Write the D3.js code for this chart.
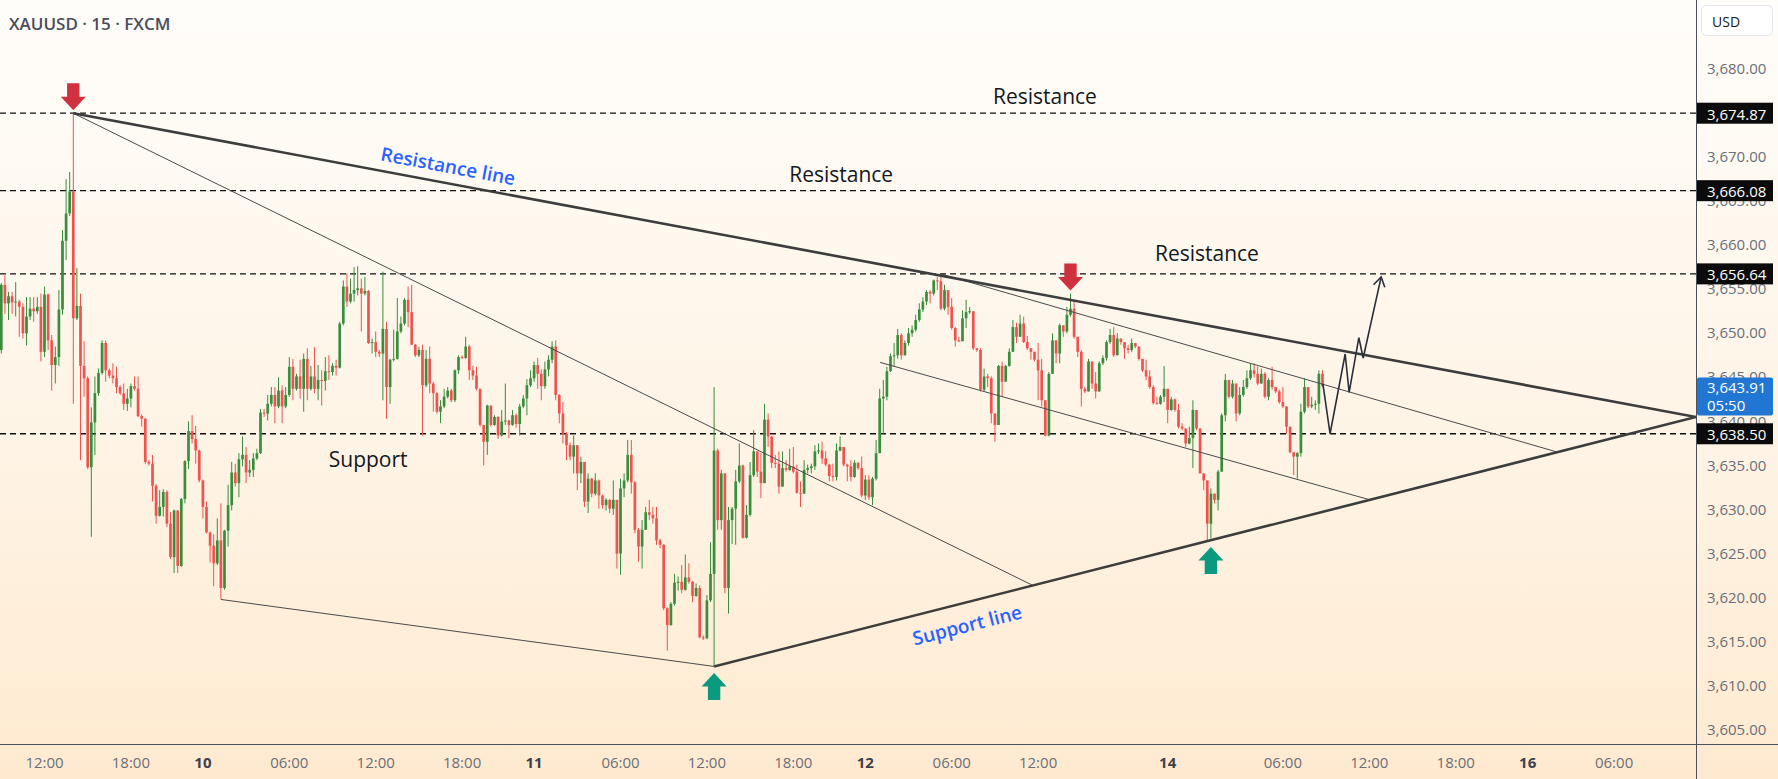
<!DOCTYPE html>
<html><head><meta charset="utf-8">
<script src="https://cdn.jsdelivr.net/npm/d3@7"></script>
<style>body{margin:0;overflow:hidden;background:#fff}svg{display:block;font-family:'Open Sans','Noto Sans',sans-serif}</style>
</head><body><svg id="c" width="1778" height="779"></svg>
<script>
// ---------- DATA (XAUUSD 15m, bar index 0 = 9 Sep 09:00 UTC) ----------
const opens=[
3648.0,3655.4,3653.3,3654.1,3653.4,3653.5,3652.9,3649.9,3651.8,3652.7,
3652.4,3652.9,3647.8,3654.3,3649.1,3646.3,3647.2,3652.6,3660.4,3663.5,
3666.0,3651.6,3653.0,3646.2,3644.8,3634.7,3639.8,3643.1,3645.4,3648.8,
3645.7,3645.1,3644.8,3643.8,3643.1,3641.9,3642.5,3643.9,3643.6,3640.5,
3640.2,3635.3,3635.1,3632.6,3629.2,3630.2,3631.9,3628.3,3624.5,3629.8,
3623.5,3631.1,3635.4,3638.8,3637.9,3636.6,3633.2,3630.2,3627.3,3625.8,
3623.8,3626.4,3621.0,3627.5,3630.4,3634.1,3632.9,3635.6,3636.1,3634.1,
3634.4,3635.7,3636.3,3640.9,3640.8,3641.9,3642.9,3641.6,3643.4,3641.6,
3642.9,3646.1,3643.6,3645.0,3643.6,3647.0,3643.6,3645.0,3643.6,3644.6,
3644.5,3645.6,3645.5,3646.2,3646.0,3651.0,3655.2,3653.5,3654.4,3654.8,
3655.0,3654.4,3654.7,3648.8,3648.9,3647.8,3647.6,3650.4,3643.8,3646.9,
3647.0,3650.1,3651.0,3653.7,3652.3,3648.6,3647.4,3648.0,3644.0,3647.0,
3644.2,3643.1,3641.0,3641.6,3642.7,3643.4,3642.3,3645.7,3647.2,3647.1,
3648.4,3645.7,3645.1,3643.6,3639.5,3637.6,3641.7,3639.5,3640.4,3638.3,
3639.9,3640.0,3639.5,3640.6,3639.6,3641.6,3642.5,3644.0,3644.8,3646.3,
3645.3,3643.9,3645.8,3646.9,3648.4,3642.9,3640.8,3638.5,3637.2,3635.9,
3637.2,3634.0,3635.3,3630.8,3633.4,3631.7,3633.2,3631.5,3630.4,3631.0,
3630.0,3631.0,3624.9,3632.3,3633.2,3636.1,3633.0,3627.6,3625.7,3627.6,
3629.6,3629.3,3628.9,3626.4,3625.9,3618.7,3616.8,3619.2,3621.6,3621.7,
3620.8,3622.2,3621.7,3620.1,3621.0,3615.4,3615.3,3619.6,3622.6,3636.6,
3628.7,3634.0,3621.0,3628.7,3630.0,3633.1,3634.9,3626.7,3629.3,3633.8,
3636.5,3634.2,3632.9,3640.1,3638.2,3635.2,3635.1,3632.5,3634.6,3634.4,
3634.8,3634.2,3631.8,3631.7,3634.4,3634.6,3634.8,3636.5,3636.6,3635.7,
3635.0,3633.7,3633.6,3636.6,3637.0,3635.0,3634.8,3633.6,3635.2,3634.6,
3631.5,3633.3,3631.3,3633.4,3636.3,3642.5,3642.7,3645.6,3647.3,3647.4,
3649.7,3647.4,3648.8,3649.9,3650.3,3651.4,3652.6,3653.5,3654.6,3654.4,
3655.9,3655.8,3652.7,3654.8,3652.9,3650.5,3649.1,3649.0,3651.6,3652.3,
3652.4,3648.2,3648.0,3643.5,3645.0,3644.8,3640.8,3639.5,3646.2,3644.4,
3646.2,3647.8,3650.6,3649.5,3651.0,3648.9,3648.2,3647.8,3646.9,3645.7,
3642.3,3638.3,3645.3,3649.1,3647.6,3650.8,3650.1,3652.0,3652.7,3649.5,
3647.8,3643.6,3643.3,3646.7,3644.2,3643.3,3646.5,3647.1,3648.9,3649.7,
3647.4,3649.3,3648.9,3648.2,3648.0,3648.8,3648.4,3647.0,3645.7,3645.0,
3643.8,3642.0,3641.9,3642.7,3643.6,3641.2,3642.4,3641.2,3639.3,3639.1,
3637.4,3638.0,3641.2,3639.1,3634.0,3633.2,3628.3,3631.7,3631.0,3634.2,
3640.6,3644.6,3642.7,3644.2,3640.8,3642.9,3643.8,3644.8,3645.7,3645.3,
3644.2,3645.3,3642.7,3644.6,3643.8,3643.3,3642.1,3641.6,3639.3,3636.4,
3635.9,3636.3,3641.0,3643.8,3641.6,3641.8,3641.9,3645.3];
const highs=[
3655.6,3656.5,3654.6,3654.6,3655.7,3653.7,3653.3,3654.0,3654.0,3654.0,
3654.0,3654.4,3655.2,3654.4,3649.7,3648.4,3654.8,3661.6,3667.4,3668.2,
3674.87,3657.3,3654.4,3649.0,3645.0,3641.5,3645.0,3645.9,3649.1,3649.1,
3645.9,3646.5,3646.1,3644.0,3644.2,3643.6,3644.2,3645.0,3645.0,3640.7,
3640.3,3635.5,3636.1,3632.8,3632.1,3632.2,3632.1,3629.6,3629.9,3629.8,
3631.2,3635.5,3639.9,3640.6,3639.4,3636.7,3633.3,3630.8,3627.4,3627.1,
3628.9,3630.6,3627.6,3632.7,3635.3,3635.1,3636.3,3638.2,3637.0,3635.5,
3636.3,3636.8,3641.3,3641.3,3642.9,3643.8,3643.8,3644.9,3644.0,3643.8,
3647.2,3647.0,3645.3,3646.9,3647.6,3648.2,3646.2,3648.3,3646.3,3645.7,
3647.2,3647.4,3646.5,3646.9,3651.2,3655.9,3656.7,3656.1,3657.4,3657.5,
3656.1,3656.3,3654.8,3649.3,3650.1,3648.0,3656.9,3651.2,3647.0,3650.3,
3653.9,3651.8,3653.9,3655.2,3655.4,3648.7,3648.4,3648.6,3648.0,3648.4,
3644.4,3643.2,3642.3,3643.6,3643.8,3643.6,3645.8,3647.4,3647.4,3649.5,
3648.6,3646.2,3646.1,3643.6,3639.5,3641.8,3641.7,3640.6,3640.5,3641.2,
3644.2,3640.1,3641.2,3640.8,3641.9,3642.9,3644.7,3645.7,3646.7,3647.1,
3645.8,3646.7,3647.4,3649.0,3649.1,3643.0,3642.1,3638.7,3637.5,3638.3,
3637.2,3635.9,3635.3,3634.0,3633.5,3634.0,3633.3,3631.6,3631.2,3631.1,
3633.2,3631.0,3633.4,3634.0,3637.8,3637.8,3633.1,3627.8,3628.7,3630.2,
3631.0,3630.2,3630.2,3626.6,3626.0,3618.8,3619.4,3622.6,3622.3,3623.6,
3624.8,3623.8,3621.8,3621.5,3621.3,3615.6,3620.2,3626.2,3643.8,3636.8,
3634.4,3634.0,3630.2,3630.2,3634.4,3637.4,3635.0,3630.4,3635.3,3638.9,
3636.5,3636.3,3641.9,3640.8,3638.2,3636.1,3636.5,3636.5,3635.5,3636.8,
3637.0,3635.0,3633.1,3635.5,3635.0,3635.1,3637.2,3637.4,3637.6,3636.5,
3635.1,3635.1,3637.4,3638.2,3637.0,3635.1,3635.5,3635.5,3635.3,3635.9,
3633.8,3633.8,3633.6,3637.8,3643.6,3644.6,3646.1,3647.6,3648.8,3650.4,
3649.9,3649.1,3650.5,3650.8,3652.0,3653.3,3654.0,3654.8,3654.8,3656.0,
3656.3,3656.64,3655.4,3654.8,3653.9,3650.6,3649.5,3652.5,3653.7,3652.9,
3652.4,3648.2,3648.2,3645.9,3645.3,3645.0,3640.8,3646.3,3646.7,3646.3,
3648.2,3651.4,3651.1,3652.0,3651.8,3649.6,3648.2,3647.8,3648.8,3647.0,
3642.3,3645.5,3649.9,3649.1,3651.0,3650.8,3652.9,3654.4,3653.7,3649.5,
3648.0,3643.8,3647.0,3646.7,3645.5,3646.7,3647.4,3649.1,3650.4,3650.6,
3649.9,3649.3,3648.9,3648.6,3649.3,3648.8,3648.4,3647.0,3646.9,3645.7,
3644.0,3642.7,3642.9,3646.2,3643.6,3642.7,3642.5,3641.9,3639.7,3639.1,
3639.3,3642.3,3641.2,3639.1,3634.0,3633.2,3632.3,3631.7,3634.4,3640.8,
3645.3,3644.6,3644.6,3644.2,3643.8,3644.6,3645.7,3646.5,3646.5,3646.1,
3645.9,3645.5,3644.8,3646.1,3643.8,3643.5,3643.8,3641.6,3639.3,3636.4,
3636.4,3641.9,3644.8,3643.8,3642.7,3642.3,3645.7,3645.7];
const lows=[
3647.6,3652.1,3651.4,3652.1,3651.8,3649.5,3649.3,3648.5,3651.4,3651.2,
3652.1,3646.7,3647.2,3648.0,3643.4,3644.2,3646.2,3652.0,3658.2,3663.2,
3641.9,3651.4,3635.5,3642.7,3634.5,3626.8,3636.1,3642.8,3645.2,3644.4,
3644.8,3644.2,3643.1,3642.9,3641.2,3641.1,3641.5,3643.4,3640.4,3639.3,
3635.1,3634.9,3630.8,3628.3,3629.1,3629.1,3627.9,3624.3,3622.7,3622.7,
3623.4,3630.6,3634.5,3637.4,3635.1,3633.0,3628.9,3627.2,3623.9,3621.2,
3623.6,3619.7,3620.8,3625.7,3629.8,3632.5,3631.3,3634.8,3632.9,3633.6,
3633.6,3635.5,3636.2,3640.4,3640.0,3641.6,3639.7,3641.4,3639.7,3641.4,
3642.7,3642.3,3643.4,3642.5,3641.0,3642.3,3643.4,3643.1,3642.3,3641.7,
3643.4,3644.6,3645.1,3645.1,3645.9,3650.8,3652.9,3653.3,3653.5,3654.2,
3650.1,3654.2,3648.7,3647.6,3647.2,3647.2,3642.3,3640.2,3641.9,3646.7,
3646.9,3649.9,3650.8,3650.6,3648.6,3647.2,3647.2,3638.3,3643.8,3643.1,
3641.0,3640.8,3639.7,3641.4,3642.5,3642.1,3642.1,3645.3,3647.0,3647.0,
3644.6,3644.6,3643.4,3639.3,3634.9,3636.1,3639.3,3639.4,3637.9,3638.2,
3639.5,3638.0,3639.4,3639.2,3638.3,3641.4,3640.6,3643.8,3644.4,3643.6,
3642.3,3643.6,3645.0,3646.5,3642.3,3639.7,3637.4,3635.5,3635.5,3634.0,
3632.1,3632.9,3630.2,3629.5,3631.3,3631.5,3630.0,3630.0,3629.8,3629.5,
3629.3,3623.2,3622.5,3631.3,3633.0,3631.7,3627.2,3624.0,3623.2,3627.6,
3628.7,3628.3,3625.9,3625.5,3618.5,3613.9,3616.7,3619.0,3620.7,3620.4,
3620.7,3621.5,3619.4,3620.0,3615.3,3615.1,3615.2,3619.4,3612.1,3627.6,
3627.6,3620.4,3618.1,3626.0,3625.9,3632.9,3626.6,3626.6,3629.1,3633.6,
3633.6,3631.2,3632.9,3637.0,3634.6,3634.6,3631.7,3632.5,3634.2,3634.3,
3634.0,3631.7,3630.2,3631.7,3634.0,3634.0,3634.4,3636.2,3635.1,3634.8,
3633.1,3633.1,3633.2,3636.5,3634.8,3633.1,3633.1,3633.5,3634.4,3631.3,
3631.0,3631.0,3630.4,3633.2,3636.3,3638.5,3642.3,3645.5,3646.1,3647.0,
3646.9,3647.4,3648.5,3649.5,3650.1,3651.2,3652.3,3653.1,3653.3,3654.2,
3654.8,3652.5,3652.5,3652.0,3650.3,3648.4,3648.9,3649.0,3650.5,3652.1,
3648.0,3647.8,3643.3,3643.3,3643.8,3639.7,3637.6,3639.5,3642.7,3644.4,
3646.1,3647.8,3648.8,3649.5,3648.8,3648.0,3646.9,3646.7,3642.3,3641.6,
3638.2,3638.2,3645.3,3646.5,3646.5,3649.5,3649.9,3651.8,3649.3,3647.2,
3641.6,3643.1,3643.3,3643.6,3642.5,3643.3,3646.3,3646.8,3648.7,3647.2,
3647.4,3648.6,3647.0,3647.6,3647.8,3648.2,3646.8,3645.5,3644.6,3643.6,
3641.8,3641.8,3641.8,3642.1,3639.7,3641.1,3641.0,3639.1,3638.9,3637.0,
3637.3,3634.6,3638.9,3634.0,3632.1,3626.4,3626.6,3630.6,3629.8,3634.2,
3639.9,3642.5,3642.5,3639.9,3640.6,3642.7,3643.6,3644.6,3644.9,3644.0,
3644.2,3642.5,3642.3,3643.5,3643.1,3641.9,3641.4,3638.5,3636.3,3633.8,
3633.4,3635.9,3640.8,3641.4,3641.4,3641.2,3640.8,3643.8];
const closes=[
3655.4,3653.3,3654.1,3653.4,3653.5,3652.9,3649.9,3651.8,3652.7,3652.4,
3652.9,3647.8,3654.3,3649.1,3646.3,3647.2,3652.6,3660.4,3663.5,3666.0,
3651.6,3653.0,3646.2,3644.8,3634.7,3639.8,3643.1,3645.4,3648.8,3645.7,
3645.1,3644.8,3643.8,3643.1,3641.9,3642.5,3643.9,3643.6,3640.5,3640.2,
3635.3,3635.1,3632.6,3629.2,3630.2,3631.9,3628.3,3624.5,3629.8,3623.5,
3631.1,3635.4,3638.8,3637.9,3636.6,3633.2,3630.2,3627.3,3625.8,3623.8,
3626.4,3621.0,3627.5,3630.4,3634.1,3632.9,3635.6,3636.1,3634.1,3634.4,
3635.7,3636.3,3640.9,3640.8,3641.9,3642.9,3641.6,3643.4,3641.6,3642.9,
3646.1,3643.6,3645.0,3643.6,3647.0,3643.6,3645.0,3643.6,3644.6,3644.5,
3645.6,3645.5,3646.2,3646.0,3651.0,3655.2,3653.5,3654.4,3654.8,3655.0,
3654.4,3654.7,3648.8,3648.9,3647.8,3647.6,3650.4,3643.8,3646.9,3647.0,
3650.1,3651.0,3653.7,3652.3,3648.6,3647.4,3648.0,3644.0,3647.0,3644.2,
3643.1,3641.0,3641.6,3642.7,3643.4,3642.3,3645.7,3647.2,3647.1,3648.4,
3645.7,3645.1,3643.6,3639.5,3637.6,3641.7,3639.5,3640.4,3638.3,3639.9,
3640.0,3639.5,3640.6,3639.6,3641.6,3642.5,3644.0,3644.8,3646.3,3645.3,
3643.9,3645.8,3646.9,3648.4,3642.9,3640.8,3638.5,3637.2,3635.9,3637.2,
3634.0,3635.3,3630.8,3633.4,3631.7,3633.2,3631.5,3630.4,3631.0,3630.0,
3631.0,3624.9,3632.3,3633.2,3636.1,3633.0,3627.6,3625.7,3627.6,3629.6,
3629.3,3628.9,3626.4,3625.9,3618.7,3616.8,3619.2,3621.6,3621.7,3620.8,
3622.2,3621.7,3620.1,3621.0,3615.4,3615.3,3619.6,3622.6,3636.6,3628.7,
3634.0,3621.0,3628.7,3630.0,3633.1,3634.9,3626.7,3629.3,3633.8,3636.5,
3634.2,3632.9,3640.1,3638.2,3635.2,3635.1,3632.5,3634.6,3634.4,3634.8,
3634.2,3631.8,3631.7,3634.4,3634.6,3634.8,3636.5,3636.6,3635.7,3635.0,
3633.7,3633.6,3636.6,3637.0,3635.0,3634.8,3633.6,3635.2,3634.6,3631.5,
3633.3,3631.3,3633.4,3636.3,3642.5,3642.7,3645.6,3647.3,3647.4,3649.7,
3647.4,3648.8,3649.9,3650.3,3651.4,3652.6,3653.5,3654.6,3654.4,3655.9,
3655.8,3652.7,3654.8,3652.9,3650.5,3649.1,3649.0,3651.6,3652.3,3652.4,
3648.2,3648.0,3643.5,3645.0,3644.8,3640.8,3639.5,3646.2,3644.4,3646.2,
3647.8,3650.6,3649.5,3651.0,3648.9,3648.2,3647.8,3646.9,3645.7,3642.3,
3638.3,3645.3,3649.1,3647.6,3650.8,3650.1,3652.0,3652.7,3649.5,3647.8,
3643.6,3643.3,3646.7,3644.2,3643.3,3646.5,3647.1,3648.9,3649.7,3647.4,
3649.3,3648.9,3648.2,3648.0,3648.8,3648.4,3647.0,3645.7,3645.0,3643.8,
3642.0,3641.9,3642.7,3643.6,3641.2,3642.4,3641.2,3639.3,3639.1,3637.4,
3638.0,3641.2,3639.1,3634.0,3633.2,3628.3,3631.7,3631.0,3634.2,3640.6,
3644.6,3642.7,3644.2,3640.8,3642.9,3643.8,3644.8,3645.7,3645.3,3644.2,
3645.3,3642.7,3644.6,3643.8,3643.3,3642.1,3641.6,3639.3,3636.4,3635.9,
3636.3,3641.0,3643.8,3641.6,3641.8,3641.9,3645.3,3643.91];

const levelPrices=[3674.87,3666.08,3656.64,3638.50];
const priceTicks=[3605,3610,3615,3620,3625,3630,3635,3640,3645,3650,3655,3660,3665,3670,3675,3680];
const timeTickIdx=[12,36,56,80,104,128,148,172,196,220,240,264,288,324,356,380,404,424,448];
const timeTickLabels=["12:00","18:00","10","06:00","12:00","18:00","11","06:00","12:00","18:00","12","06:00","12:00","14","06:00","12:00","18:00","16","06:00"];
const lastPrice=3643.91, countdown="05:50";
// trend lines: [barIndex, price] pairs
const resistanceLine=[[20,3674.87],[470.75,3640.4]];
const supportLine=[[198,3612.1],[470.75,3640.4]];
const thinLines=[
  [[20,3674.87],[286.5,3621.3]],
  [[61,3619.7],[198,3612.1]],
  [[261,3656.64],[432.4,3636.4]],
  [[244.1,3646.6],[380.2,3631.0]]];
const projection=[[367.1,3644.2],[369.1,3638.5],[373.3,3647.55],[374.4,3643.2],[377.1,3649.4],[378.3,3647.1],[383.3,3656.3]];
const downArrows=[[20,3674.87],[297,3654.4]];
const upArrows=[[198,3612.1],[336,3626.4]];

// ---------- CHART ----------
const W=1778,H=779,axisX=1696,axisY=744;
const svg=d3.select("#c");
const x=d3.scaleLinear().domain([0,448]).range([1.3,1614.1]);
const y=d3.scaleLinear().domain([3605,3680]).range([729,68]);
const defs=svg.append("defs");
const g=defs.append("linearGradient").attr("id","bg").attr("x1",0).attr("y1",0).attr("x2",0).attr("y2",1);
g.append("stop").attr("offset","0%").attr("stop-color","#fffdfa");
g.append("stop").attr("offset","55%").attr("stop-color","#fef4e6");
g.append("stop").attr("offset","100%").attr("stop-color","#ffead0");
defs.append("clipPath").attr("id","plot").append("rect").attr("x",0).attr("y",0).attr("width",axisX).attr("height",axisY);
svg.append("rect").attr("width",W).attr("height",H).attr("fill","url(#bg)");

const plot=svg.append("g").attr("clip-path","url(#plot)");
// level dashed lines
plot.selectAll("line.lvl").data(levelPrices).join("line").attr("class","lvl")
  .attr("x1",0).attr("x2",axisX).attr("y1",d=>y(d)).attr("y2",d=>y(d))
  .attr("stroke","#111").attr("stroke-width",1.3).attr("stroke-dasharray","6 4");

// candles
const bars=d3.range(closes.length).map(i=>({i,o:opens[i],h:highs[i],l:lows[i],c:closes[i]}));
const up="#388e3c",dn="#ef5350";
plot.selectAll("line.wick").data(bars).join("line").attr("class","wick")
  .attr("x1",d=>x(d.i)).attr("x2",d=>x(d.i))
  .attr("y1",d=>y(Math.max(d.h,d.o,d.c))).attr("y2",d=>y(Math.min(d.l,d.o,d.c)))
  .attr("stroke",d=>d.c>=d.o?up:dn).attr("stroke-width",1);
plot.selectAll("rect.body").data(bars).join("rect").attr("class","body")
  .attr("x",d=>x(d.i)-1.35).attr("width",2.7)
  .attr("y",d=>y(Math.max(d.o,d.c))).attr("height",d=>Math.max(1,Math.abs(y(d.o)-y(d.c))))
  .attr("fill",d=>d.c>=d.o?up:dn);

// trend lines
const ln=d3.line().x(d=>x(d[0])).y(d=>y(d[1]));
thinLines.forEach(l=>plot.append("path").attr("d",ln(l)).attr("fill","none").attr("stroke","#4a4a4a").attr("stroke-width",1));
[resistanceLine,supportLine].forEach(l=>plot.append("path").attr("d",ln(l)).attr("fill","none").attr("stroke","#3d3d3d").attr("stroke-width",2.6));

// projection zigzag with arrow head
plot.append("path").attr("d",ln(projection)).attr("fill","none").attr("stroke","#2a2e39").attr("stroke-width",1.6).attr("stroke-linejoin","miter");
{
  const a=projection[projection.length-2],b=projection[projection.length-1];
  const ax=x(a[0]),ay=y(a[1]),bx=x(b[0]),by=y(b[1]);
  const ang=Math.atan2(by-ay,bx-ax),L=11,sp=0.55;
  const p1=[bx-L*Math.cos(ang-sp),by-L*Math.sin(ang-sp)],p2=[bx-L*Math.cos(ang+sp),by-L*Math.sin(ang+sp)];
  plot.append("path").attr("d",`M${p1}L${bx},${by}L${p2}`).attr("fill","none").attr("stroke","#2a2e39").attr("stroke-width",1.6);
}

// arrows
function arrowPath(cx,tip,dir){ // dir=1 pointing down, -1 pointing up
  const hw=12.5,sw=6.2,hh=13.5,sh=13.5;
  const b=tip-dir*hh, t=tip-dir*(hh+sh);
  return `M${cx},${tip}L${cx-hw},${b}L${cx-sw},${b}L${cx-sw},${t}L${cx+sw},${t}L${cx+sw},${b}L${cx+hw},${b}Z`;
}
plot.selectAll("path.dn").data(downArrows).join("path").attr("class","dn")
  .attr("d",d=>arrowPath(x(d[0]),y(d[1])-3,1)).attr("fill","#d0313e");
plot.selectAll("path.up").data(upArrows).join("path").attr("class","up")
  .attr("d",d=>arrowPath(x(d[0]),y(d[1])+6.5,-1)).attr("fill","#0a9a80");

// annotations
const labels=[["Resistance",289.9,3676.8],["Resistance",233.3,3668.0],["Resistance",334.9,3659.0],["Support",101.9,3635.6]];
plot.selectAll("text.ann").data(labels).join("text").attr("class","ann")
  .attr("x",d=>x(d[1])).attr("y",d=>y(d[2])).attr("text-anchor","middle").attr("dominant-baseline","central")
  .attr("font-size",21).attr("fill","#131722").text(d=>d[0]);
function slopeDeg(l){return Math.atan2(y(l[1][1])-y(l[0][1]),x(l[1][0])-x(l[0][0]))*180/Math.PI;}
[["Resistance line",124.1,3668.9,resistanceLine],["Support line",268.3,3616.8,supportLine]].forEach(d=>{
  plot.append("text").attr("transform",`translate(${x(d[1])},${y(d[2])}) rotate(${slopeDeg(d[3])})`)
    .attr("text-anchor","middle").attr("dominant-baseline","central").attr("font-size",19).attr("font-weight",600)
    .attr("fill","#2962ff").text(d[0]);
});

// axes lines
svg.append("line").attr("x1",axisX+0.5).attr("x2",axisX+0.5).attr("y1",0).attr("y2",H).attr("stroke","#4c505c").attr("stroke-width",1);
svg.append("line").attr("x1",0).attr("x2",W).attr("y1",axisY+0.5).attr("y2",axisY+0.5).attr("stroke","#4c505c").attr("stroke-width",1);

// price axis
const fmt=d3.format(",.2f");
svg.selectAll("text.pt").data(priceTicks).join("text").attr("class","pt")
  .attr("x",1707).attr("y",d=>y(d)).attr("dominant-baseline","central").attr("font-size",15).attr("fill","#6b6e79").text(d=>fmt(d));
const lb=svg.selectAll("g.lb").data(levelPrices).join("g").attr("class","lb");
lb.append("rect").attr("x",axisX+1).attr("y",d=>y(d)-10.5).attr("width",76).attr("height",21).attr("fill","#0b0b0b");
lb.append("text").attr("x",1707).attr("y",d=>y(d)+0.5).attr("dominant-baseline","central").attr("font-size",15).attr("fill","#fff").text(d=>fmt(d));
svg.append("rect").attr("x",axisX+1).attr("y",y(lastPrice)-8.5).attr("width",76).attr("height",38).attr("rx",2).attr("fill","#2176d3");
svg.append("text").attr("x",1707).attr("y",y(lastPrice)+0.5).attr("dominant-baseline","central").attr("font-size",15).attr("fill","#fff").text(fmt(lastPrice));
svg.append("text").attr("x",1707).attr("y",y(lastPrice)+19).attr("dominant-baseline","central").attr("font-size",15).attr("fill","#fff").text(countdown);
svg.append("rect").attr("x",1701.5).attr("y",5.5).attr("width",71).attr("height",30).attr("rx",5).attr("fill","#fff").attr("stroke","#e3e5ea");
svg.append("text").attr("x",1712).attr("y",21).attr("dominant-baseline","central").attr("font-size",14).attr("fill","#131722").text("USD");

// time axis
svg.selectAll("text.tt").data(timeTickIdx).join("text").attr("class","tt")
  .attr("x",d=>x(d)).attr("y",762).attr("text-anchor","middle").attr("dominant-baseline","central")
  .attr("font-size",15)
  .attr("font-weight",(d,k)=>timeTickLabels[k].includes(":")?400:700)
  .attr("fill",(d,k)=>timeTickLabels[k].includes(":")?"#6b6e79":"#3e414c")
  .text((d,k)=>timeTickLabels[k]);

// title
svg.append("text").attr("x",9).attr("y",23).attr("dominant-baseline","central").attr("font-size",17).attr("font-weight",600).attr("fill","#4a4d59").text("XAUUSD · 15 · FXCM");
</script></body></html>
